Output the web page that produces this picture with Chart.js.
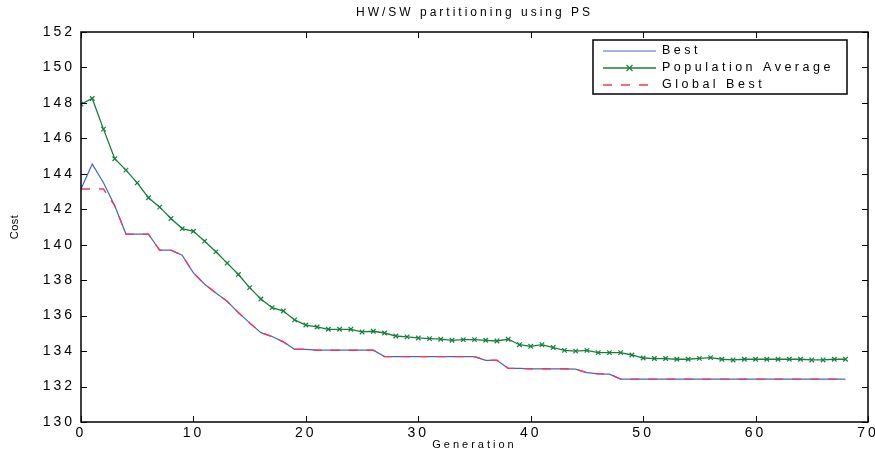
<!DOCTYPE html>
<html>
<head>
<meta charset="utf-8">
<title>HW/SW partitioning using PS</title>
<script src="https://cdn.jsdelivr.net/npm/chart.js@4/dist/chart.umd.min.js"></script>
<style>
    html, body { margin: 0; padding: 0; background: #fff; }
    #chart-wrap { width: 875px; height: 452px; }
</style>
</head>
<body>
<div id="chart-wrap"><canvas id="cost-chart" width="875" height="452"></canvas></div>
<script>
// Données
const generations = [0, 1, 2, 3, 4, 5, 6, 7, 8, 9, 10, 11, 12, 13, 14, 15, 16, 17, 18, 19,
    20, 21, 22, 23, 24, 25, 26, 27, 28, 29, 30, 31, 32, 33, 34, 35, 36, 37, 38, 39,
    40, 41, 42, 43, 44, 45, 46, 47, 48, 49, 50, 51, 52, 53, 54, 55, 56, 57, 58, 59,
    60, 61, 62, 63, 64, 65, 66, 67, 68];

const bestCost = [143.14, 144.55, 143.5, 142.2, 140.6, 140.6, 140.6, 139.69, 139.69, 139.41,
    138.41, 137.77, 137.28, 136.81, 136.17, 135.59, 135.04, 134.82, 134.52, 134.1,
    134.1, 134.05, 134.05, 134.05, 134.05, 134.05, 134.05, 133.69, 133.69, 133.69,
    133.69, 133.69, 133.69, 133.69, 133.69, 133.69, 133.48, 133.48, 133.03, 133.02,
    133.0, 133.0, 133.0, 133.0, 132.98, 132.78, 132.72, 132.7, 132.42, 132.42,
    132.42, 132.42, 132.42, 132.42, 132.42, 132.42, 132.42, 132.42, 132.42, 132.42,
    132.42, 132.42, 132.42, 132.42, 132.42, 132.42, 132.42, 132.42, 132.42];

const populationAverage = [147.93, 148.25, 146.52, 144.85, 144.21, 143.49, 142.65, 142.12, 141.48, 140.91,
    140.76, 140.2, 139.6, 138.96, 138.32, 137.58, 136.94, 136.45, 136.26, 135.76,
    135.47, 135.36, 135.23, 135.23, 135.23, 135.08, 135.12, 135.02, 134.85, 134.8,
    134.74, 134.7, 134.67, 134.61, 134.65, 134.65, 134.61, 134.57, 134.67, 134.36,
    134.27, 134.36, 134.2, 134.04, 134.0, 134.04, 133.91, 133.91, 133.91, 133.78,
    133.61, 133.58, 133.58, 133.54, 133.54, 133.59, 133.63, 133.54, 133.5, 133.54,
    133.54, 133.54, 133.54, 133.54, 133.54, 133.5, 133.5, 133.54, 133.54];

const globalBest = [143.14, 143.14, 143.14, 142.2, 140.6, 140.6, 140.6, 139.69, 139.69, 139.41,
    138.41, 137.77, 137.28, 136.81, 136.17, 135.59, 135.04, 134.82, 134.52, 134.1,
    134.1, 134.05, 134.05, 134.05, 134.05, 134.05, 134.05, 133.69, 133.69, 133.69,
    133.69, 133.69, 133.69, 133.69, 133.69, 133.69, 133.48, 133.48, 133.03, 133.02,
    133.0, 133.0, 133.0, 133.0, 132.98, 132.78, 132.72, 132.7, 132.42, 132.42,
    132.42, 132.42, 132.42, 132.42, 132.42, 132.42, 132.42, 132.42, 132.42, 132.42,
    132.42, 132.42, 132.42, 132.42, 132.42, 132.42, 132.42, 132.42, 132.42];

const seriesLabels = ['Best', 'Population Average', 'Global Best'];
const xTicks = [0, 10, 20, 30, 40, 50, 60, 70];
const yTicks = [130, 132, 134, 136, 138, 140, 142, 144, 146, 148, 150, 152];

const FONT = '"Liberation Sans", Arial, sans-serif';
const BLUE = 'rgb(70, 100, 205)';
const GREEN = 'rgb(20, 128, 60)';
const RED = 'rgb(240, 60, 80)';

// Espacement par texte (le reste prend la valeur par défaut)
const SPACING_DEFAULT = '3px';
const SPACING_BY_TEXT = { 'Cost': '0.5px', 'HW/SW partitioning using PS': '3px' };

/**
 * Associe les valeurs x et y pour Chart.js
 */
function toPoints(values) {
    return values.map((v, i) => ({ x: generations[i], y: v }));
}

// Espacement des lettres (texte étiré comme sur la figure)
const letterSpacingPlugin = {
    id: 'letterSpacing',
    beforeInit(chart) {
        const c = chart.ctx;
        const origFill = c.fillText.bind(c);
        c.fillText = function(text, x, y, maxWidth) {
            const prev = c.letterSpacing;
            if (SPACING_BY_TEXT[text]) c.letterSpacing = SPACING_BY_TEXT[text];
            if (maxWidth === undefined) origFill(text, x, y);
            else origFill(text, x, y, maxWidth);
            c.letterSpacing = prev;
        };
    },
    beforeLayout(chart) { chart.ctx.letterSpacing = SPACING_DEFAULT; },
    beforeDraw(chart) { chart.ctx.letterSpacing = SPACING_DEFAULT; }
};

// Cadre complet et graduations tournées vers l'intérieur
const framePlugin = {
    id: 'frame',
    afterDatasetsDraw(chart) {
        const ctx = chart.ctx;
        const area = chart.chartArea;
        const xs = chart.scales.x;
        const ys = chart.scales.y;
        const len = 6;
        ctx.save();
        ctx.strokeStyle = '#000';
        ctx.lineWidth = 1;
        ctx.beginPath();
        xTicks.forEach(t => {
            const px = Math.round(xs.getPixelForValue(t)) + 0.5;
            ctx.moveTo(px, area.bottom);
            ctx.lineTo(px, area.bottom - len);
            ctx.moveTo(px, area.top);
            ctx.lineTo(px, area.top + len);
        });
        yTicks.forEach(t => {
            const py = Math.round(ys.getPixelForValue(t)) + 0.5;
            ctx.moveTo(area.left, py);
            ctx.lineTo(area.left + len, py);
            ctx.moveTo(area.right, py);
            ctx.lineTo(area.right - len, py);
        });
        ctx.stroke();
        ctx.lineWidth = 1.5;
        ctx.strokeRect(area.left, area.top, area.right - area.left, area.bottom - area.top);
        ctx.restore();
    }
};

// Légende encadrée en haut à droite
const boxLegendPlugin = {
    id: 'boxLegend',
    afterDraw(chart) {
        const ctx = chart.ctx;
        const left = 593, top = 40, width = 254, height = 54;
        const rows = [51, 68, 85];
        ctx.save();
        ctx.fillStyle = '#fff';
        ctx.fillRect(left, top, width, height);
        ctx.strokeStyle = '#000';
        ctx.lineWidth = 1.5;
        ctx.strokeRect(left, top, width, height);

        chart.data.datasets.forEach((ds, i) => {
            const y = rows[i];
            ctx.strokeStyle = ds.borderColor;
            ctx.lineWidth = ds.borderWidth;
            ctx.setLineDash(ds.borderDash || []);
            ctx.beginPath();
            ctx.moveTo(603, y);
            ctx.lineTo(656, y);
            ctx.stroke();
            ctx.setLineDash([]);
            if (ds.pointRadius > 0) {
                ctx.lineWidth = 1.2;
                ctx.beginPath();
                ctx.moveTo(626.5, y - 3); ctx.lineTo(632.5, y + 3);
                ctx.moveTo(632.5, y - 3); ctx.lineTo(626.5, y + 3);
                ctx.stroke();
            }
            ctx.fillStyle = '#000';
            ctx.font = '12.5px ' + FONT;
            ctx.letterSpacing = '3.5px';
            ctx.textBaseline = 'middle';
            ctx.textAlign = 'left';
            ctx.fillText(ds.label, 662, y);
        });
        ctx.restore();
    }
};

const ctx = document.getElementById('cost-chart').getContext('2d');
const costChart = new Chart(ctx, {
    type: 'line',
    data: {
        datasets: [
            {
                label: seriesLabels[0],
                data: toPoints(bestCost),
                borderColor: BLUE,
                borderWidth: 1.2,
                pointRadius: 0,
                tension: 0,
                order: 2
            },
            {
                label: seriesLabels[1],
                data: toPoints(populationAverage),
                borderColor: GREEN,
                backgroundColor: GREEN,
                borderWidth: 1.3,
                pointStyle: 'crossRot',
                pointRadius: 3.2,
                pointBorderWidth: 1.2,
                pointBorderColor: GREEN,
                tension: 0,
                order: 1
            },
            {
                label: seriesLabels[2],
                data: toPoints(globalBest),
                borderColor: RED,
                borderWidth: 1.4,
                borderDash: [9, 9],
                pointRadius: 0,
                tension: 0,
                order: 0
            }
        ]
    },
    options: {
        responsive: false,
        animation: false,
        devicePixelRatio: 1,
        layout: {
            padding: { left: 0, right: 7, top: 0, bottom: 0 }
        },
        plugins: {
            legend: { display: false },
            tooltip: { enabled: false },
            title: {
                display: true,
                fullSize: false,
                text: 'HW/SW partitioning using PS',
                color: '#000',
                font: { family: FONT, size: 12, weight: 'normal', lineHeight: 1.2 },
                padding: { top: 5, bottom: 12.6 }
            }
        },
        scales: {
            x: {
                type: 'linear',
                min: 0,
                max: 70,
                afterBuildTicks(scale) {
                    scale.ticks = xTicks.map(v => ({ value: v }));
                },
                afterFit(scale) {
                    scale.height = 30;
                    scale.paddingLeft = 0;
                    scale.paddingRight = 0;
                },
                grid: { display: false, drawTicks: false },
                border: { display: false },
                ticks: {
                    color: '#000',
                    padding: 3,
                    maxRotation: 0,
                    autoSkip: false,
                    font: { family: FONT, size: 14 }
                },
                title: {
                    display: true,
                    text: 'Generation',
                    color: '#000',
                    font: { family: FONT, size: 11 },
                    padding: { top: 0, bottom: 0 }
                }
            },
            y: {
                type: 'linear',
                min: 130,
                max: 152,
                afterBuildTicks(scale) {
                    scale.ticks = yTicks.map(v => ({ value: v }));
                },
                afterFit(scale) {
                    scale.width = 81;
                    scale.paddingTop = 0;
                    scale.paddingBottom = 0;
                },
                grid: { display: false, drawTicks: false },
                border: { display: false },
                ticks: {
                    color: '#000',
                    padding: 6,
                    autoSkip: false,
                    font: { family: FONT, size: 14 }
                },
                title: {
                    display: true,
                    text: 'Cost',
                    color: '#000',
                    font: { family: FONT, size: 11 },
                    padding: { top: 8, bottom: 0 }
                }
            }
        }
    },
    plugins: [letterSpacingPlugin, framePlugin, boxLegendPlugin]
});
</script>
</body>
</html>
